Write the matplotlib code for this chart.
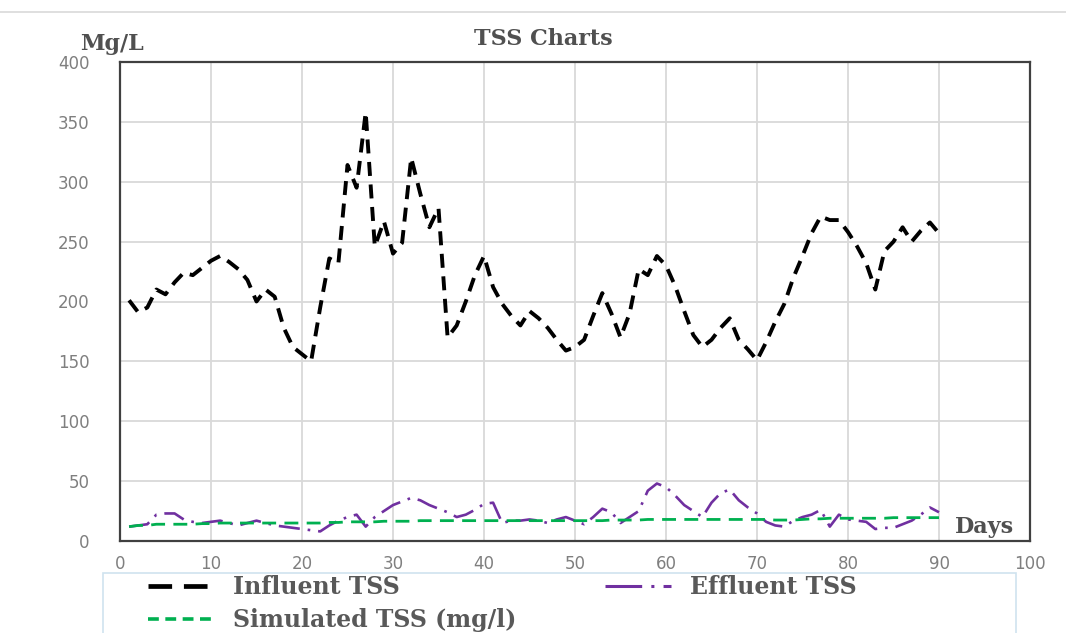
import matplotlib
matplotlib.use("Agg")
import matplotlib.pyplot as plt
from matplotlib.lines import Line2D
from matplotlib.patches import Rectangle

# datos
dias = list(range(1, 91))

influent = [201, 191, 195, 210, 206, 216, 224, 222, 228, 234,
            238, 233, 227, 218, 200, 210, 204, 178, 162, 156,
            150, 195, 236, 232, 314, 295, 358, 246, 267, 240,
            249, 320, 290, 262, 278, 170, 180, 200, 222, 238,
            212, 198, 188, 180, 192, 186, 178, 168, 159, 162,
            168, 188, 207, 190, 170, 190, 227, 222, 238, 230,
            213, 192, 172, 162, 168, 178, 186, 168, 160, 151,
            166, 183, 198, 220, 238, 257, 271, 268, 268, 258,
            246, 232, 210, 242, 250, 262, 250, 259, 266, 257]

effluent = [12, 13, 14, 22, 23, 23, 18, 16, 15, 16,
            17, 15, 13, 15, 17, 15, 13, 12, 11, 10,
            9, 8, 13, 17, 20, 22, 12, 20, 25, 30,
            33, 36, 34, 30, 27, 24, 20, 22, 26, 31,
            32, 15, 17, 17, 18, 17, 15, 18, 20, 17,
            14, 20, 27, 24, 15, 20, 25, 42, 48, 45,
            38, 30, 25, 20, 32, 40, 43, 34, 28, 23,
            16, 13, 12, 17, 20, 22, 26, 12, 22, 18,
            17, 16, 10, 11, 11, 14, 17, 22, 28, 24]

simulated = [12, 13, 13, 14, 14, 14, 14, 14, 14.5, 14.5,
             15, 15, 15, 15, 15, 15, 15, 15, 15, 15,
             15, 15, 15.5, 15.5, 16, 16, 16, 16, 16.5, 16.5,
             16.5, 16.5, 17, 17, 17, 17, 17, 17, 17, 17,
             17, 17, 17, 17, 17, 17, 17, 17, 17, 17,
             17, 17, 17, 17.5, 17.5, 17.5, 17.5, 18, 18, 18,
             18, 18, 18, 18, 18, 18, 18, 18, 18, 18,
             18, 17.5, 17.5, 17.5, 18, 18.5, 18.5, 19, 19, 19,
             19, 19, 19, 19, 19.5, 19.5, 19.5, 19.5, 19.5, 19.5]

x_ticks = list(range(0, 101, 10))
y_ticks = list(range(0, 401, 50))

NEGRO = "#000000"
MORADO = "#7030A0"
VERDE = "#00B050"
GRIS_TEXTO = "#595959"
SERIF = "DejaVu Serif"

fig = plt.figure(figsize=(10.66, 6.33), dpi=100)
ax = fig.add_axes([120/1066, 1 - 541/633, 910/1066, 479/633])

# lineas
ax.plot(dias, influent, color=NEGRO, lw=2.8, dashes=(3.6, 2.2),
        dash_capstyle="butt")
ax.plot(dias, effluent, color=MORADO, lw=1.9, dashes=(8, 3, 1, 3))
ax.plot(dias, simulated, color=VERDE, lw=2.0, dashes=(5, 3))

ax.set_xlim(0, 100)
ax.set_ylim(0, 400)
ax.set_xticks(x_ticks)
ax.set_yticks(y_ticks)
ax.tick_params(length=0, labelsize=12, labelcolor="#7f7f7f", pad=10)
ax.tick_params(axis="y", pad=22)
ax.grid(True, color="#d9d9d9", lw=1.3)
ax.set_axisbelow(True)
for s in ax.spines.values():
    s.set_color("#404040")
    s.set_linewidth(1.6)

# textos
fig.text(543/1066, 1 - 39/633, "TSS Charts", ha="center", va="center",
         family=SERIF, weight="bold", fontsize=16, color="#505050")
fig.text(112/1066, 1 - 44/633, "Mg/L", ha="center", va="center",
         family=SERIF, weight="bold", fontsize=16, color="#505050")
fig.text(985/1066, 1 - 527/633, "Days", ha="center", va="center",
         family=SERIF, weight="bold", fontsize=16, color="#505050")

# linea gris superior
fig.add_artist(Line2D([0, 1], [1 - 12/633, 1 - 12/633], color="#d9d9d9",
                      lw=1.2, transform=fig.transFigure))

# caja de la leyenda
fig.add_artist(Rectangle((103/1066, -0.05), 913/1066, 0.05 + (633 - 573)/633,
                         transform=fig.transFigure, fill=False,
                         edgecolor="#cfe3ef", lw=1.2))

h_inf = Line2D([], [], color=NEGRO, lw=3.4, dashes=(5, 2.5))
h_eff = Line2D([], [], color=MORADO, lw=2.2, dashes=(12, 3, 1, 3))
h_sim = Line2D([], [], color=VERDE, lw=2.6, dashes=(3, 1.8))

opciones = dict(frameon=False, borderpad=0, borderaxespad=0, handlelength=2.8,
                handletextpad=0.8, labelspacing=0.38, labelcolor=GRIS_TEXTO,
                prop=dict(family=SERIF, weight="bold", size=17))
fig.legend([h_inf, h_sim], ["Influent TSS", "Simulated TSS (mg/l)"],
           loc="upper left", bbox_to_anchor=(148/1066, 1 - 575/633),
           **opciones)
fig.legend([h_eff], ["Effluent TSS"],
           loc="upper left", bbox_to_anchor=(605/1066, 1 - 575/633),
           **opciones)

fig.savefig("out.png", dpi=100)
